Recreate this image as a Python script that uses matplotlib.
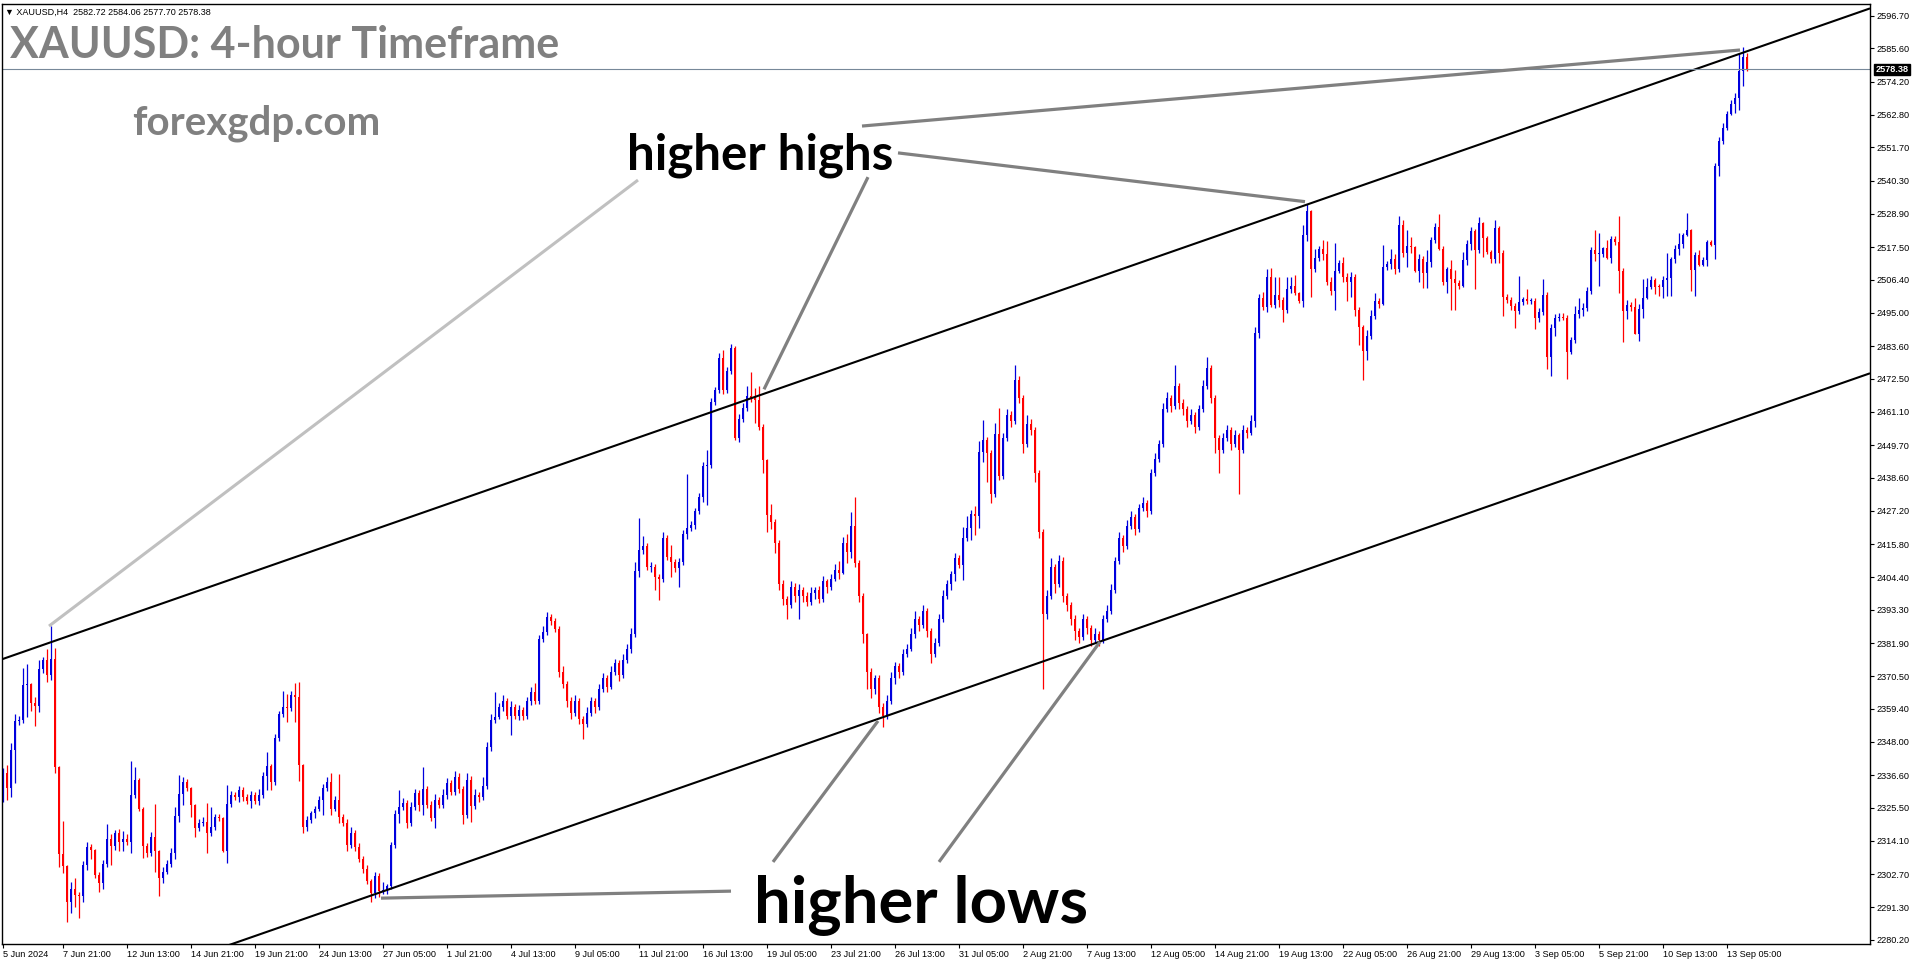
import numpy as np
import matplotlib.pyplot as plt

plt.rcParams['font.family'] = ['Liberation Sans', 'DejaVu Sans']

# XAUUSD H4 closes, 5 Jun 2024 -> 13 Sep 2024 (10 candles per row)
closes = [
    2337.2, 2332.1, 2345.2, 2355.2, 2355.4, 2367.5, 2367.8, 2361.5, 2360.4, 2373.0,
    2376.0, 2370.9, 2376.3, 2339.3, 2309.5, 2305.5, 2293.3, 2297.6, 2295.6, 2295.3,
    2305.8, 2312.1, 2311.0, 2302.4, 2299.6, 2306.2, 2314.6, 2312.4, 2316.7, 2313.8,
    2314.9, 2313.8, 2329.8, 2335.0, 2325.2, 2312.5, 2310.0, 2315.5, 2310.6, 2301.3,
    2303.6, 2306.2, 2309.8, 2322.6, 2330.2, 2334.4, 2332.1, 2326.4, 2318.4, 2320.1,
    2320.7, 2316.7, 2319.0, 2322.4, 2321.8, 2310.8, 2326.6, 2329.8, 2329.0, 2331.5,
    2329.2, 2327.9, 2329.8, 2327.9, 2329.8, 2336.3, 2339.9, 2334.4, 2349.2, 2357.6,
    2360.1, 2359.5, 2364.1, 2363.5, 2340.1, 2319.0, 2321.3, 2323.5, 2325.2, 2328.1,
    2332.1, 2334.4, 2325.2, 2328.1, 2322.4, 2320.1, 2312.7, 2316.7, 2312.0, 2308.0,
    2304.5, 2300.5, 2296.1, 2302.1, 2297.0, 2297.3, 2298.5, 2312.7, 2323.3, 2325.6,
    2327.2, 2320.1, 2325.6, 2330.4, 2326.4, 2331.8, 2326.4, 2321.8, 2328.1, 2326.4,
    2330.0, 2334.0, 2331.0, 2336.0, 2332.0, 2323.0, 2335.0, 2326.0, 2330.0, 2329.0,
    2333.0, 2346.4, 2355.5, 2356.7, 2360.0, 2362.0, 2357.0, 2360.0, 2357.0, 2359.0,
    2357.0, 2362.0, 2365.0, 2362.0, 2383.3, 2385.8, 2390.9, 2389.6, 2386.6, 2372.0,
    2368.0, 2362.0, 2358.0, 2362.0, 2356.0, 2354.0, 2358.0, 2362.0, 2360.0, 2366.0,
    2370.0, 2367.0, 2372.0, 2375.0, 2371.0, 2376.0, 2380.0, 2385.0, 2406.6, 2413.8,
    2415.1, 2407.8, 2408.0, 2404.6, 2403.7, 2418.0, 2411.5, 2409.8, 2407.7, 2409.6,
    2419.2, 2421.4, 2422.3, 2427.2, 2431.8, 2442.5, 2442.9, 2464.4, 2468.6, 2479.6,
    2468.6, 2475.1, 2482.9, 2452.3, 2458.7, 2462.5, 2466.6, 2465.7, 2465.2, 2456.0,
    2444.6, 2425.8, 2423.3, 2416.1, 2402.0, 2397.0, 2395.0, 2401.0, 2398.0, 2400.0,
    2398.0, 2396.0, 2399.0, 2400.0, 2397.0, 2403.0, 2401.0, 2404.0, 2407.0, 2406.0,
    2416.3, 2413.2, 2422.0, 2409.2, 2398.0, 2385.0, 2372.0, 2366.0, 2370.0, 2360.0,
    2357.0, 2362.0, 2370.0, 2374.0, 2372.0, 2378.0, 2380.0, 2385.0, 2390.0, 2388.0,
    2393.0, 2386.0, 2378.0, 2382.0, 2390.0, 2398.0, 2402.0, 2405.5, 2411.1, 2408.6,
    2418.0, 2421.2, 2426.0, 2425.5, 2447.5, 2451.5, 2446.9, 2432.8, 2453.5, 2439.1,
    2452.0, 2460.0, 2458.0, 2472.0, 2466.0, 2450.0, 2457.0, 2455.0, 2440.0, 2420.0,
    2392.0, 2398.0, 2408.0, 2402.0, 2410.0, 2398.0, 2395.0, 2390.0, 2386.0, 2384.0,
    2390.0, 2387.0, 2383.0, 2385.0, 2383.0, 2390.0, 2393.0, 2400.0, 2410.0, 2418.0,
    2415.0, 2422.0, 2425.0, 2421.0, 2428.0, 2430.0, 2427.0, 2440.0, 2445.0, 2450.0,
    2462.0, 2466.0, 2463.0, 2470.0, 2464.0, 2462.0, 2458.0, 2460.0, 2456.0, 2462.0,
    2470.0, 2476.0, 2466.0, 2452.0, 2448.0, 2452.0, 2455.0, 2450.0, 2453.0, 2448.0,
    2455.0, 2454.0, 2458.0, 2488.0, 2500.0, 2497.0, 2507.2, 2497.7, 2501.1, 2499.4,
    2496.0, 2503.1, 2504.2, 2501.7, 2499.2, 2521.7, 2529.9, 2510.0, 2513.7, 2516.9,
    2515.1, 2505.5, 2502.6, 2509.5, 2512.0, 2507.4, 2505.5, 2507.2, 2496.0, 2490.0,
    2482.0, 2487.0, 2494.0, 2499.0, 2498.0, 2510.6, 2511.7, 2513.3, 2510.0, 2525.1,
    2515.4, 2517.9, 2517.5, 2509.5, 2513.5, 2508.5, 2512.3, 2520.0, 2524.3, 2516.9,
    2505.5, 2510.0, 2506.5, 2505.1, 2504.2, 2513.1, 2518.6, 2523.1, 2516.5, 2525.7,
    2520.5, 2516.0, 2513.5, 2524.1, 2515.6, 2500.5, 2499.4, 2497.5, 2495.6, 2498.8,
    2499.6, 2499.0, 2499.2, 2493.4, 2495.2, 2501.1, 2479.9, 2489.7, 2493.2, 2493.6,
    2493.4, 2481.6, 2485.6, 2494.6, 2496.0, 2496.8, 2502.5, 2516.6, 2515.0, 2515.3,
    2517.2, 2513.8, 2520.4, 2519.4, 2509.3, 2495.6, 2497.8, 2497.0, 2487.9, 2496.4,
    2500.0, 2504.0, 2506.1, 2504.0, 2503.8, 2506.1, 2506.8, 2513.3, 2516.9, 2518.7,
    2521.6, 2523.3, 2509.6, 2514.8, 2511.4, 2513.1, 2519.3, 2518.4, 2545.4, 2554.0,
    2558.5, 2563.2, 2566.6, 2568.6, 2577.7, 2582.8, 2578.38,
]
first_open = 2330.4

# wick lengths above / below the body
upper_wick = [
    2, 3, 2.4, 2.4, 1.5, 6, 7, 0.5, 2, 3,
    1, 4, 11.5, 3.8, 0.5, 11.4, 0.5, 2.5, 3.7, 1,
    1.5, 1.7, 1, 0.5, 1, 1.5, 5.2, 2, 1, 1.5,
    2.5, 1.5, 11.7, 4.5, 0.5, 0.5, 1, 1.5, 11.2, 0.5,
    1.5, 1.5, 2, 3, 6.5, 1.7, 1, 0.5, 0.5, 1.5,
    1.5, 6.3, 6.8, 1, 1, 0.5, 6.6, 1.5, 1, 1.5,
    1, 1, 1.5, 1, 2, 1.5, 4.8, 0.5, 1.5, 1,
    5.3, 4.5, 1.5, 4, 5.2, 0.5, 1.5, 1, 1, 1.5,
    1.5, 1.5, 2.8, 1.5, 9, 1, 1.5, 2, 1, 1.5,
    1, 1.5, 0.5, 1.5, 1, 2.8, 1, 1.1, 1.5, 5.9,
    1.5, 1, 2, 1.5, 1, 7.7, 1, 1.5, 2, 1,
    2, 1.5, 1, 2, 1.5, 1, 2.2, 1.5, 2, 1,
    3, 1.5, 2, 8.5, 1.5, 2, 1, 2, 1, 1.5,
    1, 1.5, 2, 3.1, 1.5, 2, 1.7, 1, 1, 1,
    2, 1, 1.5, 2, 1, 1, 2, 1.5, 1, 2,
    1.5, 1, 2, 1.5, 1, 2, 1.5, 2, 3, 10.8,
    3.6, 1, 1.5, 1, 1, 2, 1, 4, 1, 1.5,
    1.5, 18.4, 1.5, 1, 1.5, 1.5, 5.1, 1.5, 1.1, 1.5,
    2.7, 1.5, 1.5, 0.7, 1.5, 1.5, 3.3, 8.3, 3.5, 4.8,
    1, 0.5, 3.7, 1, 1, 1.5, 1, 2, 1.5, 2,
    1, 1.5, 2, 1, 1.5, 2, 1, 1.5, 2, 3,
    2, 2.8, 4.9, 9.8, 1, 1, 0.5, 1.5, 1, 1,
    1.5, 2, 2, 1.5, 1, 2, 1.5, 2, 3, 1,
    2, 1, 1, 1.5, 2, 2, 1.5, 1, 1.5, 1,
    3.8, 4.2, 1.5, 2.8, 3.6, 6.8, 1, 1, 3.9, 9,
    2, 2, 1.5, 5, 1.5, 1, 3, 1.5, 1, 1,
    1, 2, 3, 1, 2, 1.5, 1, 1, 1.5, 1,
    2, 1, 1, 2, 1, 1.5, 2, 2, 1.5, 2,
    1, 2, 2, 1, 1.5, 2, 1, 1.5, 2, 1.5,
    2, 2, 1, 7, 1, 1.5, 1, 2, 1, 1.5,
    2, 4, 1, 1, 1, 2, 1.5, 1, 2, 1,
    1.5, 1, 2, 2, 1.5, 2, 2.7, 3.1, 6.3, 6.3,
    1, 4.3, 3.2, 3.8, 0.5, 3.4, 2.3, 0.5, 3.2, 1,
    3.1, 4.6, 1.9, 9.3, 1, 2.3, 1.1, 1.9, 1, 1,
    1, 2, 2, 2.7, 1, 7.6, 1.2, 3.6, 1.9, 3,
    1.7, 5.5, 3, 0.5, 1.7, 1, 4.2, 1.1, 1.4, 4.6,
    1, 0.8, 3.1, 3.2, 1, 2.9, 1.4, 1.4, 0.8, 2,
    0.5, 1, 0.5, 2.8, 0.6, 1, 1, 1, 1, 8.8,
    1, 3.5, 1, 1, 1.5, 5.4, 1, 1.5, 1.5, 1.5,
    1.5, 1, 1, 2.7, 4.2, 1.5, 1.5, 1, 6.9, 7.1,
    0.5, 2.9, 0.9, 0.9, 8.8, 1, 1.5, 1, 3, 1.5,
    6.5, 3, 1.5, 1, 1, 1.5, 8.8, 1, 1.5, 3.7,
    0.8, 5.9, 0.3, 1, 1.9, 1, 0.8, 0.6, 1, 1.4,
    1.5, 1, 1.4, 1.7, 6.2, 3.4, 1.34,
]
lower_wick = [
    3, 4, 3, 11.4, 1.5, 1, 10.8, 3, 7, 2,
    1.5, 2.3, 1.7, 2.1, 4.2, 2.5, 6.9, 4, 4, 7.7,
    2, 1.5, 3, 1, 3, 2, 1, 6.5, 1.5, 3,
    3, 1, 3.7, 1, 1, 4.4, 1.3, 1, 7, 6,
    1.5, 1, 1, 2, 2, 3.8, 1, 4, 2.8, 1,
    1, 6.9, 1, 1, 1, 0.4, 4.4, 1, 1, 1.5,
    1.5, 1, 2.6, 1, 1.5, 1, 4.8, 2.9, 1, 1,
    1, 4.5, 1, 8.5, 5.4, 2.3, 1.5, 1, 1.5, 1,
    5, 1, 2.2, 1, 2.3, 1, 2, 1, 1.5, 1,
    1.5, 1, 2.8, 1.5, 2, 1, 1.5, 1, 1, 3.2,
    1, 1.5, 1, 1, 2, 3.4, 1, 1, 3.4, 1,
    1, 1.5, 1, 1, 1.5, 3, 1, 5.3, 1, 1.5,
    1, 1, 1.5, 1, 1, 1.5, 1, 6.6, 1, 1.5,
    1.5, 1, 1.5, 1, 1, 1, 1, 1.5, 1, 1.6,
    1.5, 2, 2, 1, 2, 5, 1, 1, 2, 1,
    1, 2, 1, 1, 2, 1, 1, 1.5, 1, 2,
    1.5, 1, 1.5, 4.5, 7.1, 1, 1, 5.2, 1.5, 6.5,
    1, 1.5, 1, 1.5, 1, 1.5, 13.3, 1, 1, 1,
    1.5, 1, 1, 0.9, 1.5, 1, 1, 1.1, 7.8, 1,
    4.3, 5.7, 2.4, 3.2, 2, 2, 5, 1, 2, 8,
    2, 1.5, 1, 2, 1.5, 1, 2, 1, 1, 2,
    0.5, 4, 2.3, 1.4, 2, 3, 6, 3, 1.5, 2,
    4, 1, 1, 2, 2, 1, 1, 1, 1.5, 2,
    1, 2, 3, 1, 1, 1, 1, 2, 2.3, 1,
    5.1, 1, 4, 6.6, 4.3, 3.5, 9.7, 3, 1, 1.5,
    1, 1, 2, 1, 2, 3, 1, 2, 3, 2,
    26, 2, 1, 3, 1, 2, 2, 2, 3, 2,
    1, 2, 2, 1, 2, 1, 1, 1, 1, 1,
    2, 1, 1, 2, 1, 1, 2, 1, 1, 1,
    1, 1, 2, 1, 2, 2, 2, 1, 2, 1,
    1, 1, 2, 5, 8, 1, 1, 2, 1, 15,
    1, 2, 1, 2, 1.5, 1, 1.7, 0.6, 1.1, 2.3,
    4, 1, 1.4, 0.6, 0.7, 2.1, 2, 9.4, 0.9, 1,
    2, 0.9, 1.5, 6.6, 1, 1.7, 6.3, 4.9, 2, 6,
    10, 3, 1, 1, 1.5, 0.3, 0.9, 1.6, 1.7, 1,
    1.1, 4.8, 2.1, 0.6, 3.8, 5.1, 5.1, 1.5, 1.2, 0.4,
    1, 3.8, 10.5, 9.1, 1, 0.2, 1.7, 2.1, 13.4, 1,
    6.2, 1, 1.5, 1.5, 3.4, 6.6, 1, 1.5, 5.7, 1,
    1, 1, 1, 4, 1.5, 1, 4.2, 6.5, 2.6, 1,
    1, 9.3, 0.8, 1, 1.5, 2, 1, 1.2, 2.3, 10.8,
    1, 0.5, 1.6, 1, 7.4, 10.6, 2.8, 1.5, 0.2, 2.5,
    3, 0.4, 0.9, 2.7, 3, 3.6, 5.3, 6, 1.1, 2.2,
    1.4, 0.3, 7.1, 8.8, 0.4, 0.2, 2.1, 0.5, 5.1, 3.6,
    1, 0.8, 0.3, 3.2, 4, 4.9, 0.68,
]

date_labels = ["5 Jun 2024", "7 Jun 21:00", "12 Jun 13:00", "14 Jun 21:00", "19 Jun 21:00",
               "24 Jun 13:00", "27 Jun 05:00", "1 Jul 21:00", "4 Jul 13:00", "9 Jul 05:00",
               "11 Jul 21:00", "16 Jul 13:00", "19 Jul 05:00", "23 Jul 21:00", "26 Jul 13:00",
               "31 Jul 05:00", "2 Aug 21:00", "7 Aug 13:00", "12 Aug 05:00", "14 Aug 21:00",
               "19 Aug 13:00", "22 Aug 05:00", "26 Aug 21:00", "29 Aug 13:00", "3 Sep 05:00",
               "5 Sep 21:00", "10 Sep 13:00", "13 Sep 05:00"]
date_pos = [0] + [15 + 16 * k for k in range(len(date_labels) - 1)]

price_ticks = [2596.70, 2585.60, 2574.20, 2562.80, 2551.70, 2540.30, 2528.90, 2517.50,
               2506.40, 2495.00, 2483.60, 2472.50, 2461.10, 2449.70, 2438.60, 2427.20,
               2415.80, 2404.40, 2393.30, 2381.90, 2370.50, 2359.40, 2348.00, 2336.60,
               2325.50, 2314.10, 2302.70, 2291.30, 2280.20]
last_price = 2578.38

# channel lines (candle index, price)
upper_channel = [(-0.75, 2376.1), (466.75, 2599.3)]
lower_channel = [(-0.75, 2251.1), (466.75, 2474.3)]

# annotation leader lines (candle index, price)
hh_light = [(11.5, 2387.7), (158.75, 2540.5)]
hh_lines = [
    [(216.25, 2541.5), (190.25, 2468.8)],
    [(223.75, 2549.8), (325.5, 2533.1)],
    [(214.75, 2559.0), (434.25, 2585.05)],
]
hl_lines = [
    [(94.5, 2294.5), (182.0, 2296.9)],
    [(192.5, 2306.9), (218.75, 2355.2)],
    [(234.0, 2306.9), (274.25, 2382.3)],
]

closes = np.array(closes)
opens = np.r_[first_open, closes[:-1]]
highs = np.maximum(opens, closes) + np.array(upper_wick)
lows = np.minimum(opens, closes) - np.array(lower_wick)
x = np.arange(len(closes))
up = closes >= opens
colors = np.where(up, '#0000DD', '#FF0000')

fig = plt.figure(figsize=(19.16, 9.64), dpi=100)
W, H = 1916, 964
ax = fig.add_axes([2 / W, 20 / H, 1868 / W, 940 / H])

ax.vlines(x, lows, highs, colors=colors, linewidth=0.9)
body_h = np.maximum(np.abs(closes - opens), 0.35)
ax.bar(x, body_h, bottom=np.minimum(opens, closes), width=0.62, color=colors, linewidth=0)

# channel
for line in (upper_channel, lower_channel):
    (x0, y0), (x1, y1) = line
    ax.plot([x0, x1], [y0, y1], color='black', lw=1.5, solid_capstyle='butt')

# bid line
ax.axhline(last_price, color='#778899', lw=0.8)

# annotations
(x0, y0), (x1, y1) = hh_light
ax.plot([x0, x1], [y0, y1], color='#C0C0C0', lw=2.2, solid_capstyle='butt')
for seg in hh_lines + hl_lines:
    (x0, y0), (x1, y1) = seg
    ax.plot([x0, x1], [y0, y1], color='#808080', lw=2.3, solid_capstyle='butt')

ax.text(189.25, 2549.1, "higher highs", fontsize=35.5, fontweight='bold', family='Lato',
        ha='center', va='center', color='black')
ax.text(229.5, 2292.0, "higher lows", fontsize=47, fontweight='bold', family='Lato',
        ha='center', va='center', color='black')

ax.set_xlim(-0.25, 466.75)
ax.set_ylim(2278.79, 2600.81)

ax.yaxis.tick_right()
ax.set_yticks(price_ticks)
ax.set_yticklabels([f"{p:.2f}" for p in price_ticks])
ax.tick_params(axis='y', length=3, width=0.8, pad=2, labelsize=6.6, colors='black')
ax.set_xticks(date_pos)
ax.set_xticklabels(date_labels, ha='left')
ax.tick_params(axis='x', length=3, width=0.8, pad=1.5, labelsize=6.6, colors='black')
for s in ax.spines.values():
    s.set_color('black')
    s.set_linewidth(1)

ax.text(1.003, last_price, f"{last_price:.2f}", transform=ax.get_yaxis_transform(),
        fontsize=6.6, color='white', va='center', ha='left', fontweight='bold',
        bbox=dict(boxstyle='square,pad=0.15', fc='black', ec='black'))

fig.text(5 / W, 1 - 12 / H, "\u25BC XAUUSD,H4  2582.72 2584.06 2577.70 2578.38",
         fontsize=6.5, va='center', ha='left', color='black',
         family=['Liberation Sans', 'DejaVu Sans'])
fig.text(10 / W, 1 - 58 / H, "XAUUSD: 4-hour Timeframe", fontsize=31, fontweight='bold',
         family='Lato', color='#808080', va='baseline', ha='left')
fig.text(132 / W, 1 - 135 / H, "forexgdp.com", fontsize=29, fontweight='bold',
         family='Lato', color='#808080', va='baseline', ha='left')

fig.savefig("out.png", dpi=100, facecolor='white')
